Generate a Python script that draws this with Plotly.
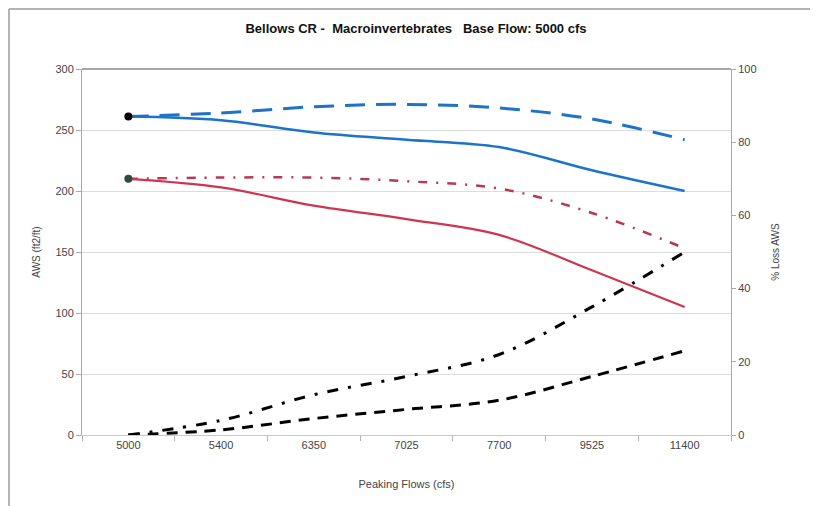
import plotly.graph_objects as go

# ---- data ----
peaking_flows = ["5000", "5400", "6350", "7025", "7700", "9525", "11400"]

blue_solid = [261, 258, 248, 242, 236, 217, 200]
blue_dashed = [261, 264, 269, 271, 268, 259, 242]
red_solid = [210, 203, 188, 177, 164, 135, 105]
red_dashdot = [210, 211, 211, 208, 202, 182, 153]
loss_dashdot = [0, 4, 11, 16, 22, 35, 50]      # % Loss AWS (right axis)
loss_dashed = [0, 1.4, 4.5, 7, 9.5, 16, 23]    # % Loss AWS (right axis)

left_ticks = [0, 50, 100, 150, 200, 250, 300]
right_ticks = [0, 20, 40, 60, 80, 100]

BLUE = "#1c73c9"
RED = "#cf3550"
RED_DD = "#b43a55"
TXT = "#444444"

fig = go.Figure()

fig.add_trace(go.Scatter(x=peaking_flows, y=blue_dashed, mode="lines",
                         line=dict(color=BLUE, width=3, dash="20px,11px", shape="spline"),
                         showlegend=False))
fig.add_trace(go.Scatter(x=peaking_flows, y=blue_solid, mode="lines",
                         line=dict(color=BLUE, width=2.5, shape="spline"),
                         showlegend=False))
fig.add_trace(go.Scatter(x=peaking_flows, y=red_dashdot, mode="lines",
                         line=dict(color=RED_DD, width=2.5, dash="9px,9px,2px,9px", shape="spline"),
                         showlegend=False))
fig.add_trace(go.Scatter(x=peaking_flows, y=red_solid, mode="lines",
                         line=dict(color=RED, width=2.2, shape="spline"),
                         showlegend=False))
fig.add_trace(go.Scatter(x=peaking_flows, y=loss_dashdot, mode="lines", yaxis="y2",
                         line=dict(color="black", width=3, dash="11px,10px,3px,10px", shape="spline"),
                         showlegend=False))
fig.add_trace(go.Scatter(x=peaking_flows, y=loss_dashed, mode="lines", yaxis="y2",
                         line=dict(color="black", width=3, dash="11px,8px", shape="spline"),
                         showlegend=False))
# base-flow markers
fig.add_trace(go.Scatter(x=[peaking_flows[0]], y=[blue_solid[0]], mode="markers",
                         marker=dict(color="black", size=8), showlegend=False))
fig.add_trace(go.Scatter(x=[peaking_flows[0]], y=[red_solid[0]], mode="markers",
                         marker=dict(color="#2f4a3c", size=8), showlegend=False))

# the page places the figure 8px in from the top-left corner
OFF = 8
W, H = 818 - OFF, 506 - OFF
L, R, T, B = 82 - OFF, 87, 69 - OFF, 71
pw, ph = W - L - R, H - T - B

def px_x(p):
    return (p - OFF - L) / pw

def px_y(p):
    return (H - B - (p - OFF)) / ph

fig.update_layout(
    width=W, height=H,
    margin=dict(l=L, r=R, t=T, b=B),
    paper_bgcolor="white", plot_bgcolor="white",
    font=dict(family="Liberation Sans, Arial, sans-serif", color=TXT, size=11),
    title=dict(text="<b>Bellows CR -  Macroinvertebrates   Base Flow: 5000 cfs</b>",
               x=(416 - OFF) / W, xanchor="center", y=1 - (28 - OFF) / H, yanchor="middle",
               font=dict(size=13, color="#111111")),
    xaxis=dict(type="category", categoryorder="array", categoryarray=peaking_flows,
               range=[-0.5, len(peaking_flows) - 0.5], automargin=False,
               tickson="boundaries", ticks="outside", ticklen=5, tickcolor="#b0b0b0",
               showline=True, linecolor="#c8c8c8", linewidth=1, showgrid=False,
               title=dict(text="Peaking Flows (cfs)", font=dict(size=11, color=TXT), standoff=30),
               tickfont=dict(size=11, color=TXT)),
    yaxis=dict(range=[0, 300], tickvals=left_ticks, showgrid=True, gridcolor="#dcdcdc",
               automargin=False,
               gridwidth=1, zeroline=False, showline=True, linecolor="#a8a8a8",
               ticks="outside", ticklen=5, tickcolor="#a8a8a8",
               title=dict(text="AWS (ft2/ft)", font=dict(size=10, color=TXT), standoff=12),
               tickfont=dict(size=11, color=TXT)),
    yaxis2=dict(range=[0, 100], tickvals=right_ticks, overlaying="y", side="right",
                automargin=False,
                showgrid=False, zeroline=False, showline=True, linecolor="#a8a8a8",
                ticks="outside", ticklen=4, tickcolor="#a8a8a8",
                title=dict(text="% Loss AWS", font=dict(size=10, color=TXT), standoff=16),
                tickfont=dict(size=11, color=TXT)),
    shapes=[
        # plot-area top border
        dict(type="line", xref="paper", yref="paper", x0=0, x1=1, y0=1, y1=1,
             line=dict(color="#8a8a8a", width=1.5)),
        # outer chart frame
        dict(type="line", xref="paper", yref="paper", x0=px_x(9), x1=px_x(818), y0=px_y(9), y1=px_y(9),
             line=dict(color="#9a9a9a", width=1.5)),
        dict(type="line", xref="paper", yref="paper", x0=px_x(9), x1=px_x(9), y0=px_y(9), y1=px_y(506),
             line=dict(color="#9a9a9a", width=1.5)),
    ],
)

fig.write_html("out.html")
